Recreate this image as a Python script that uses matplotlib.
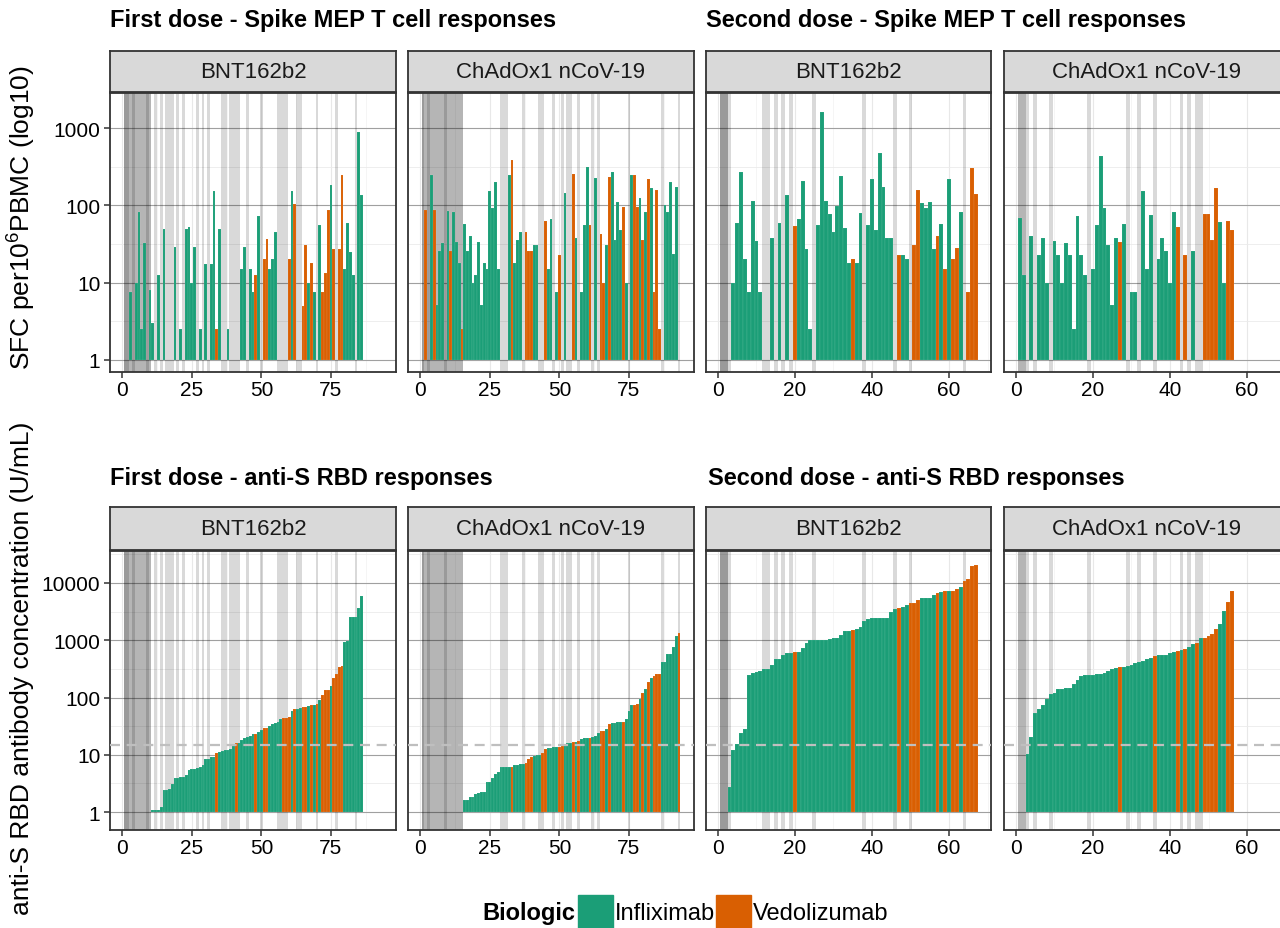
import numpy as np
import matplotlib
matplotlib.use('Agg')
import matplotlib.pyplot as plt
from matplotlib.patches import Rectangle
from matplotlib.ticker import FixedLocator, NullFormatter

plt.rcParams['font.family'] = ['Liberation Sans', 'DejaVu Sans']
plt.rcParams['mathtext.fontset'] = 'custom'
plt.rcParams['mathtext.rm'] = 'Liberation Sans'
plt.rcParams['mathtext.it'] = 'Liberation Sans:italic'
plt.rcParams['mathtext.bf'] = 'Liberation Sans:bold'

# ---------------- data (participant order = rank of antibody level) ----------------
# T cell responses (SFC per 10^6 PBMC), None = no result
tcell_d1_bnt = [None, None, 7.5, None, 10, 82, 2.5, 33, None, 8,
                3, None, 12.5, None, 49, None, None, None, 29, None,
                2.5, None, 49, 52, 10, 29, None, 2.5, None, 17.4,
                None, 17.4, 152, 2.5, 49, None, None, 2.5, None, None,
                None, None, 15, 29, None, 15, 7.5, 12.5, 72, None,
                20, 37, 15, 20, 45, None, None, None, None, 20,
                152, 105, None, None, 4.9, 31, 10, 18, 7.5, None,
                55, 7.5, 13.3, 87, 184, 27, None, 27, 250, 15,
                60, 25, 12.5, None, 910, 137]
tcell_d1_chad = [None, 87, None, 248, 87, 5.1, 25.7, 32.6, None, 85,
                 25.7, 82, 33.6, 18, 2.5, 57.6, 25.7, 40, 10, 12.5,
                 33.6, 5.1, 18, 15, 154, 93, 200, 15, None, None,
                 None, 248, 389, 18, 35.7, 45, None, 45, 25.7, 25.7,
                 30.7, 30.7, None, None, 63, 15, 66, None, 7.5, 22.8,
                 None, 145, None, None, 255, 37.8, None, 7.5, 56, 315,
                 56, None, 227, None, 42.7, 10, 30.7, 234, 271, 35.7,
                 111, 48, 95, 10, None, 248, 248, 95, 125, 35.7,
                 82, 220, 168, 7.5, 158, 2.5, None, 101, 82, 202,
                 23.5, 174, None]
tcell_d2_bnt = [None, None, None, 10, 60, 270, 20, 7.5, 113, 35,
                7.5, None, None, 37.5, None, 60, None, 135, None, 54,
                67, 207, 27.5, 2.5, None, 55, 1615, 113, 77.5, 45,
                99, 241, 51, 18, 20, 18, 80, None, 55, 220,
                48, 480, 172, 37.5, 37.5, None, 22.8, 22.8, 20, None,
                31, 158, 108, 94, 110, 27.5, 40, 57.6, 15, 220,
                20, 28, 82, None, 7.5, 306, 141]
tcell_d2_chad = [68, 12.5, None, 40, None, 22.8, 37.8, 10, None, 35,
                 22.8, 10, 32.6, 22.8, 2.5, 73, 22.8, 12.5, None, 15,
                 56, 437, 93, 30.7, 5.1, 37.8, 33.6, 57.6, None, 7.5,
                 7.5, None, 152, 15, 75, None, 20, 37.8, 25.7, 10,
                 82, 52.6, None, 22.8, None, 25.7, None, None, 77.5, 77.5,
                 35.7, 168, 61, 10, 63, 48]

# anti-S RBD antibody concentration (U/mL), None = no result
ab_d1_bnt = [None] * 10 + [
    1.1, 1.1, 1.1, 1.2, 2.4, 2.4, 2.5, 3.1, 4.0, 4.0,
    4.1, 4.1, 4.4, 5.5, 5.6, 5.7, 5.8, 6.2, 6.6, 8.4,
    8.6, 9.0, 9.2, 10.7, 11.2, 11.8, 12.2, 12.3, 12.4, 14.3,
    15.9, 16, 18, 20, 20.8, 21, 22.8, 23.5, 24.5, 26.8,
    29, 29.5, 31.8, 35, 36.6, 37.5, 41.5, 44, 44.5, 45,
    58, 62, 63, 66, 67, 68, 72, 73, 75, 76,
    89, 110, 133, 135, 159, 215, 254, 340, 355, 950,
    960, 2500, 2500, 2500, 3600, 6000]
ab_d1_chad = [None] * 15 + [
    1.6, 1.6, 1.85, 1.85, 2.1, 2.15, 2.2, 2.2, 3.4, 3.4,
    4.0, 4.6, 5.1, 6.0, 6.0, 6.0, 6.0, 6.0, 6.5, 6.5,
    7.0, 7.0, 7.3, 8.6, 9.2, 9.6, 10, 10, 10.7, 12.5,
    12.9, 12.9, 13.4, 13.4, 13.9, 14.5, 14.8, 16.3, 16.3, 17,
    17, 17.2, 18.7, 19.4, 20, 20, 20.5, 21.3, 23.8, 25.8,
    26.5, 28, 34, 36, 36.5, 37, 37, 37.5, 41.6, 57.5,
    73, 74, 78, 93, 118, 139, 190, 218, 240, 254,
    254, 416, 416, 570, 570, 770, 1170, 1350]
ab_d2_bnt = [None] * 2 + [
    2.7, 12.2, 15.3, 24.4, 28.7, 247, 265, 282, 285, 318,
    320, 377, 463, 475, 545, 590, 605, 630, 632, 740,
    880, 990, 1000, 1000, 1005, 1030, 1035, 1080, 1085, 1220,
    1440, 1450, 1540, 1600, 1720, 2150, 2350, 2450, 2450, 2460,
    2460, 2470, 3070, 3500, 3650, 3800, 4200, 4400, 4450, 5050,
    5500, 5500, 5520, 6200, 6750, 7100, 7150, 7200, 7300, 7900,
    8400, 10700, 11900, 20000, 20700]
ab_d2_chad = [None] * 2 + [
    10.2, 20.5, 54, 62, 74, 93, 117, 118, 139, 142,
    145, 146, 175, 202, 234, 245, 247, 248, 254, 255,
    272, 290, 320, 323, 340, 342, 355, 377, 405, 415,
    432, 463, 495, 525, 550, 552, 555, 590, 620, 650,
    670, 690, 760, 850, 880, 1110, 1115, 1170, 1290, 1600,
    1950, 3300, 4600, 7300]

# participants on vedolizumab (positions); everyone else is on infliximab
ved_d1_bnt = [34, 41, 48, 51, 52, 58, 59, 60, 62, 65, 66, 68, 70, 72, 73, 74, 76, 77, 78, 79]
ved_d1_chad = [2, 5, 11, 15, 33, 38, 39, 40, 44, 45, 50, 51, 55, 57, 61, 65, 66, 68, 73,
               77, 78, 80, 82, 84, 85, 86, 93]
ved_d2_bnt = [20, 35, 47, 50, 51, 52, 57, 59, 61, 62, 64, 65, 66, 67]
ved_d2_chad = [27, 36, 42, 44, 47, 49, 50, 51, 52, 55, 56]

vaccines = ['BNT162b2', 'ChAdOx1 nCoV-19']
seropositive_cutoff = 15
biologics = ['Infliximab', 'Vedolizumab']

# ---------------- layout ----------------
W, H = 1280, 929
GREEN = '#1b9e77'
ORANGE = '#d95f02'
DARK = '#333333'


def px_box(x0, y0, x1, y1):
    return [x0 / W, 1 - y1 / H, (x1 - x0) / W, (y1 - y0) / H]


def to_arr(v):
    return np.array([np.nan if a is None else a for a in v], dtype=float)


def draw_panel(ax, tcell, ab, ved, which, xlim, xticks, ylog, yticks, show_y):
    tcell = to_arr(tcell)
    ab = to_arr(ab)
    pos = np.arange(1, len(tcell) + 1)
    vals = tcell if which == 'tcell' else ab

    # grey bands mark participants with a missing result
    for p in pos[np.isnan(tcell)]:
        ax.axvspan(p - 0.5, p + 0.5, color='black', alpha=0.15, lw=0, zorder=1)
    for p in pos[np.isnan(ab)]:
        ax.axvspan(p - 0.5, p + 0.5, color='black', alpha=0.29, lw=0, zorder=1)

    ok = ~np.isnan(vals)
    cols = np.array([ORANGE if p in ved else GREEN for p in pos])
    ax.bar(pos[ok], vals[ok] - 1, bottom=1, width=1, color=cols[ok],
           edgecolor=(1, 1, 1, 0.2), linewidth=0.3, zorder=2)

    if which == 'ab':
        ax.axhline(seropositive_cutoff, color='#bfbfbf', lw=1.6,
                   dashes=(4.5, 3), zorder=3)

    ax.set_yscale('log')
    ax.set_ylim(10 ** ylog[0], 10 ** ylog[1])
    ax.set_xlim(*xlim)
    ax.yaxis.set_major_locator(FixedLocator(yticks))
    ax.yaxis.set_minor_locator(FixedLocator([t * 10 ** 0.5 for t in yticks]))
    ax.yaxis.set_minor_formatter(NullFormatter())
    ax.set_yticklabels([str(t) for t in yticks])
    ax.set_xticks(xticks)
    step = xticks[1] - xticks[0]
    ax.xaxis.set_minor_locator(FixedLocator([t + step / 2 for t in xticks]))

    ax.set_axisbelow(True)
    ax.grid(True, which='major', axis='y', color='#a0a0a0', lw=0.8)
    ax.grid(True, which='minor', axis='y', color='#ebebeb', lw=0.6)
    ax.grid(True, which='major', axis='x', color='#e8e8e8', lw=0.8)
    ax.grid(True, which='minor', axis='x', color='#f2f2f2', lw=0.5)

    ax.tick_params(which='minor', length=0)
    ax.tick_params(axis='x', which='major', labelsize=15, length=4, width=1.1,
                   color=DARK, pad=2, labelcolor='black')
    ax.tick_params(axis='y', which='major', labelsize=15, length=4, width=1.1,
                   color=DARK, pad=3, labelcolor='black',
                   left=show_y, labelleft=show_y)
    for s in ax.spines.values():
        s.set_color(DARK)
        s.set_linewidth(1.3)


def draw_strip(x0, y0, x1, y1, label):
    sax = fig.add_axes(px_box(x0, y0, x1, y1))
    sax.set_facecolor('#d9d9d9')
    sax.set_xticks([])
    sax.set_yticks([])
    for s in sax.spines.values():
        s.set_color(DARK)
        s.set_linewidth(1.3)
    sax.text(0.5, 0.5, label, ha='center', va='center', fontsize=16,
             color='#1a1a1a', transform=sax.transAxes)


fig = plt.figure(figsize=(W / 100, H / 100), dpi=100)

cols_x = [(110, 396), (408, 694), (706, 991), (1004, 1289)]
top_y = (94, 372.7)
bot_y = (551.7, 831)
top_strip = (52, 93)
bot_strip = (508, 550.5)

panels = [
    (tcell_d1_bnt, ab_d1_bnt, ved_d1_bnt, (-4.4, 98.4), [0, 25, 50, 75]),
    (tcell_d1_chad, ab_d1_chad, ved_d1_chad, (-4.4, 98.4), [0, 25, 50, 75]),
    (tcell_d2_bnt, ab_d2_bnt, ved_d2_bnt, (-3.1, 70.9), [0, 20, 40, 60]),
    (tcell_d2_chad, ab_d2_chad, ved_d2_chad, (-3.1, 70.9), [0, 20, 40, 60]),
]

for i, (tc, ab, ved, xl, xt) in enumerate(panels):
    x0, x1 = cols_x[i]
    ax = fig.add_axes(px_box(x0, top_y[0], x1, top_y[1]))
    draw_panel(ax, tc, ab, ved, 'tcell', xl, xt, (-0.156, 3.459),
               [1, 10, 100, 1000], i == 0)
    draw_strip(x0, top_strip[0], x1, top_strip[1], vaccines[i % 2])

    ax = fig.add_axes(px_box(x0, bot_y[0], x1, bot_y[1]))
    draw_panel(ax, tc, ab, ved, 'ab', xl, xt, (-0.314, 4.564),
               [1, 10, 100, 1000, 10000], i == 0)
    draw_strip(x0, bot_strip[0], x1, bot_strip[1], vaccines[i % 2])

# titles
title_kw = dict(fontsize=17, fontweight='bold', ha='left', va='center')
fig.text(110 / W, 1 - 20 / H, 'First dose - Spike MEP T cell responses', **title_kw)
fig.text(706 / W, 1 - 20 / H, 'Second dose - Spike MEP T cell responses', **title_kw)
fig.text(110 / W, 1 - 479 / H, 'First dose - anti-S RBD responses', **title_kw)
fig.text(708 / W, 1 - 479 / H, 'Second dose - anti-S RBD responses', **title_kw)

# axis titles
fig.text(22 / W, 1 - 218 / H, 'SFC per10$^{6}$PBMC (log10)', rotation=90,
         ha='center', va='center', fontsize=19)
fig.text(22 / W, 1 - 668 / H, 'anti-S RBD antibody concentration (U/mL)',
         rotation=90, ha='center', va='center', fontsize=19)

# legend
ly = 1 - 914 / H
fig.text(482 / W, ly, 'Biologic', fontsize=17, fontweight='bold', ha='left', va='center')
for (bx, tx), lab, c in zip([(578, 615), (716, 753)], biologics, [GREEN, ORANGE]):
    fig.patches.append(Rectangle((bx / W, 1 - 931 / H), 35 / W, 35 / H,
                                 transform=fig.transFigure, color=c))
    fig.text(tx / W, ly, lab, fontsize=17, ha='left', va='center')

fig.savefig('out.png', dpi=100)
